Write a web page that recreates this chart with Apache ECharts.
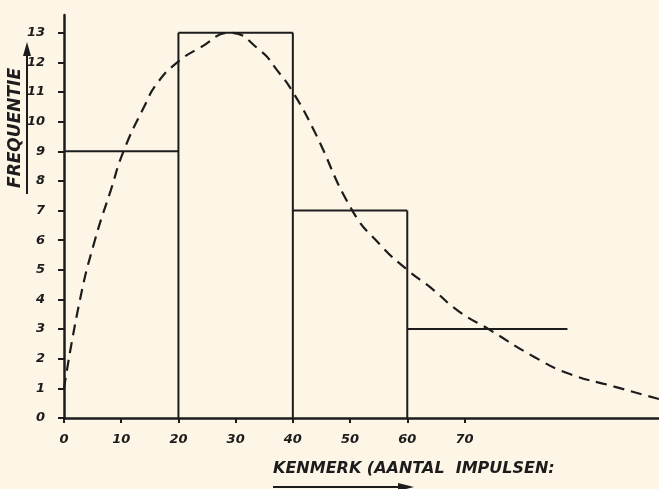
<!DOCTYPE html>
<html>
<head>
    <meta charset="utf-8"/>
    <title>Frequentie</title>
    <script src="https://cdn.jsdelivr.net/npm/echarts@6/dist/echarts.min.js"></script>
    <style>
        html, body { margin: 0; padding: 0; background: #fdf6e6; }
        #chart { width: 659px; height: 489px; }
    </style>
</head>
<body>
<div id="chart"></div>
<script type="text/javascript">
    // histogram bins
    let binStart = [0, 20, 40, 60];
    let binEnd = [20, 40, 60, 88];
    let frequency = [9, 13, 7, 3];

    // dashed curve
    let curveX = [0, 2.8, 5.4, 8.2, 10.4, 14, 16.3, 19.8, 23.8, 29, 34.3, 37.2, 40, 43.7, 50.4, 55.3, 60, 64.1, 69, 74.2, 82.2, 88.2, 96.2, 104];
    let curveY = [1.0, 4.0, 6.0, 7.7, 9.0, 10.5, 11.3, 12.0, 12.5, 13.0, 12.4, 11.75, 11.0, 9.7, 7.0, 5.84, 5.0, 4.4, 3.6, 3.0, 2.06, 1.5, 1.06, 0.64];

    let xTicks = [0, 10, 20, 30, 40, 50, 60, 70];
    let yTicks = [0, 1, 2, 3, 4, 5, 6, 7, 8, 9, 10, 11, 12, 13];

    let ink = '#1c1c1c';
    let labelFont = {color: ink, fontFamily: 'DejaVu Sans', fontStyle: 'italic', fontWeight: 'bold', fontSize: 13};

    let histData = binStart.map(function (s, i) { return [s, binEnd[i], frequency[i], i]; });
    let curveData = curveX.map(function (x, i) { return [x, curveY[i]]; });

    let chart = echarts.init(document.getElementById('chart'), null, {renderer: 'canvas'});
    chart.setOption({
        backgroundColor: '#fdf6e6',
        animation: false,
        grid: {left: 64, right: 0, top: 15, bottom: 71},
        xAxis: {
            type: 'value', min: 0, max: 104,
            axisLine: {lineStyle: {color: ink, width: 2.5}},
            axisTick: {show: true, length: 5, lineStyle: {color: ink, width: 2}, customValues: xTicks},
            axisLabel: Object.assign({margin: 15, customValues: xTicks}, labelFont),
            splitLine: {show: false}
        },
        yAxis: {
            type: 'value', min: 0, max: 13.6,
            axisLine: {show: true, lineStyle: {color: ink, width: 2.5}},
            axisTick: {show: true, length: 6, lineStyle: {color: ink, width: 2}, customValues: yTicks},
            axisLabel: Object.assign({margin: 19, customValues: yTicks}, labelFont),
            splitLine: {show: false}
        },
        series: [
            {
                type: 'custom',
                data: histData,
                renderItem: function (params, api) {
                    let s = api.value(0), e = api.value(1), h = api.value(2), i = api.value(3);
                    let a = api.coord([s, h]);
                    let b = api.coord([e, h]);
                    let children = [{
                        type: 'line',
                        shape: {x1: a[0], y1: a[1], x2: b[0], y2: b[1]},
                        style: {stroke: ink, lineWidth: 2}
                    }];
                    // vertical edge shared with the previous bin
                    if (i > 0) {
                        let top = api.coord([s, Math.max(h, frequency[i - 1])]);
                        let bot = api.coord([s, 0]);
                        children.push({
                            type: 'line',
                            shape: {x1: top[0], y1: top[1], x2: bot[0], y2: bot[1]},
                            style: {stroke: ink, lineWidth: 2}
                        });
                    }
                    return {type: 'group', children: children};
                }
            },
            {
                type: 'line',
                data: curveData,
                smooth: 0.5,
                showSymbol: false,
                lineStyle: {color: ink, width: 2.2, type: [11, 7]}
            }
        ],
        graphic: [
            {
                type: 'text', left: 7, top: 68, rotation: Math.PI / 2,
                style: {text: 'FREQUENTIE', fill: ink, font: 'italic bold 17px "DejaVu Sans"'}
            },
            {
                type: 'line', shape: {x1: 27, y1: 194, x2: 27, y2: 52},
                style: {stroke: ink, lineWidth: 2}
            },
            {
                type: 'polygon', shape: {points: [[27, 42], [23, 56], [31, 56]]},
                style: {fill: ink}
            },
            {
                type: 'text', left: 273, top: 461,
                style: {text: 'KENMERK (AANTAL  IMPULSEN:', fill: ink, font: 'italic bold 16px "DejaVu Sans"'}
            },
            {
                type: 'line', shape: {x1: 273, y1: 487, x2: 400, y2: 487},
                style: {stroke: ink, lineWidth: 2}
            },
            {
                type: 'polygon', shape: {points: [[414, 487], [398, 483], [398, 491]]},
                style: {fill: ink}
            }
        ]
    });
</script>
</body>
</html>
